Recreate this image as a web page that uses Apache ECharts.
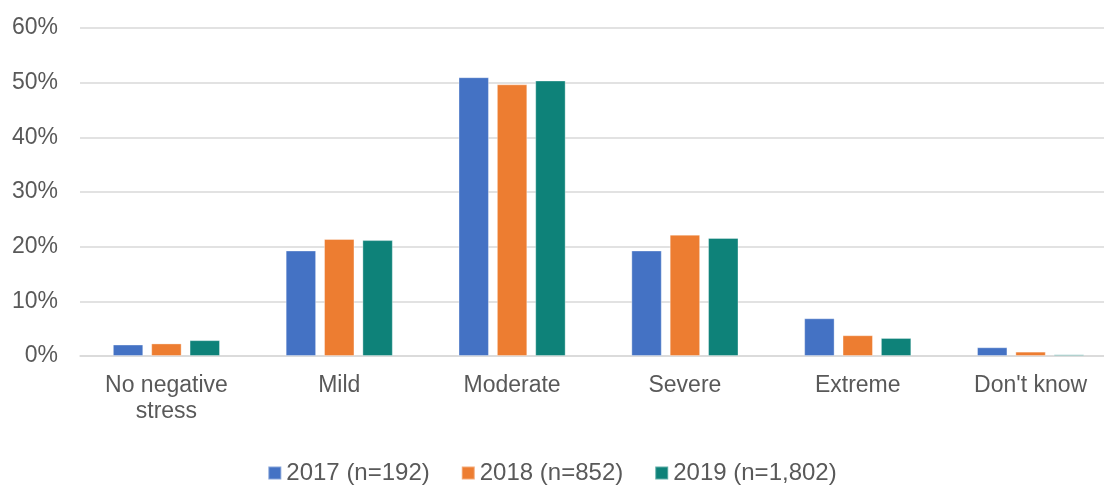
<!DOCTYPE html>
<html>
<head>
<meta charset="utf-8">
<script src="https://cdn.jsdelivr.net/npm/echarts@6/dist/echarts.min.js"></script>
<style>
  html, body { margin: 0; padding: 0; background: #fff; }
  #box { width: 1104px; height: 485px; }
</style>
</head>
<body>
<div id="box"></div>
<script>
// categories on the x axis
var categories = ['No negative\nstress', 'Mild', 'Moderate', 'Severe', 'Extreme', "Don't know"];
// legend names
var seriesNames = ['2017 (n=192)', '2018 (n=852)', '2019 (n=1,802)'];
// values in percent
var data2017 = [2.1, 19.3, 51.0, 19.3, 6.9, 1.6];
var data2018 = [2.3, 21.4, 49.7, 22.2, 3.8, 0.8];
var data2019 = [2.9, 21.2, 50.4, 21.6, 3.3, 0.3];
var colors = ['#4472C4', '#ED7D31', '#0E8279'];

var chart = echarts.init(document.getElementById('box'));
var font = 'Liberation Sans, Arial, sans-serif';

function makeSeries(name, values, i) {
  return {
    name: name,
    type: 'bar',
    data: values,
    barGap: '26%',
    barCategoryGap: '38%',
    itemStyle: { color: colors[i], borderColor: 'rgba(255,255,255,0.35)', borderWidth: 1 }
  };
}

var option = {
  animation: false,
  textStyle: { fontFamily: font },
  // the source picture is cropped: the plot runs a little past the right edge
  grid: { left: 80, right: -13, top: 28, bottom: 129, containLabel: false, outerBoundsMode: 'none' },
  legend: {
    top: 456,
    left: 'center',
    itemWidth: 13,
    itemHeight: 13,
    itemGap: 31,
    icon: 'rect',
    textStyle: { fontSize: 24, color: '#595959', fontFamily: font },
    data: seriesNames
  },
  xAxis: {
    type: 'category',
    data: categories,
    axisTick: { show: false },
    axisLine: { lineStyle: { color: '#d9d9d9', width: 1.5 } },
    axisLabel: { fontSize: 23, color: '#595959', margin: 17, lineHeight: 26, interval: 0, fontFamily: font }
  },
  yAxis: {
    type: 'value',
    min: 0,
    max: 60,
    interval: 10,
    axisLine: { show: false },
    axisTick: { show: false },
    splitLine: { lineStyle: { color: '#d9d9d9', width: 1.5 } },
    axisLabel: { fontSize: 23, color: '#595959', margin: 22, formatter: '{value}%', fontFamily: font }
  },
  series: [
    makeSeries(seriesNames[0], data2017, 0),
    makeSeries(seriesNames[1], data2018, 1),
    makeSeries(seriesNames[2], data2019, 2)
  ]
};

chart.setOption(option);
</script>
</body>
</html>
